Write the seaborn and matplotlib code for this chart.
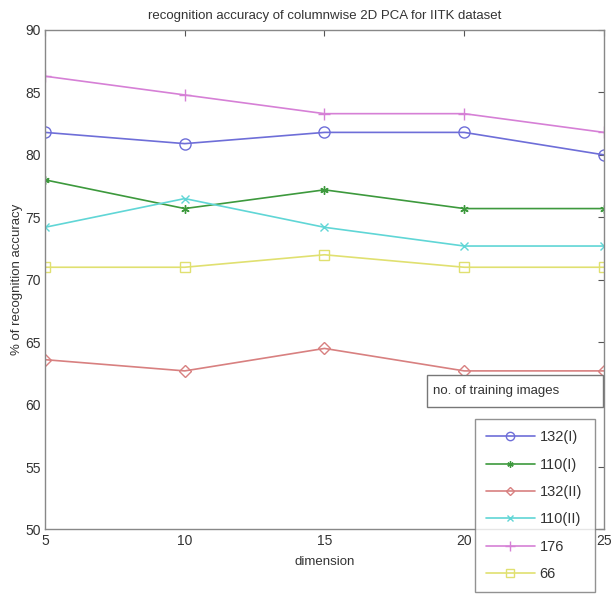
import matplotlib
matplotlib.use("Agg")
import matplotlib.pyplot as plt
from matplotlib.patches import Rectangle
import pandas as pd
import seaborn as sns

dimension = [5, 10, 15, 20, 25]
series_names = ["132(I)", "110(I)", "132(II)", "110(II)", "176", "66"]
acc_132_I = [81.8, 80.9, 81.8, 81.8, 80.0]
acc_110_I = [78.0, 75.7, 77.2, 75.7, 75.7]
acc_132_II = [63.6, 62.7, 64.5, 62.7, 62.7]
acc_110_II = [74.2, 76.5, 74.2, 72.7, 72.7]
acc_176 = [86.3, 84.8, 83.3, 83.3, 81.8]
acc_66 = [71.0, 71.0, 72.0, 71.0, 71.0]

values = [acc_132_I, acc_110_I, acc_132_II, acc_110_II, acc_176, acc_66]
df = pd.DataFrame(
    [(name, d, v) for name, vals in zip(series_names, values) for d, v in zip(dimension, vals)],
    columns=["series", "dimension", "accuracy"],
)

colors = ["#6e6ed8", "#3d993d", "#d88080", "#60d6d6", "#d680d6", "#e0e070"]
markers = ["o", (6, 2, 0), "D", "x", "+", "s"]
msizes = [8, 6, 6, 6, 9, 7]

sns.set_style("white")
plt.rcParams["font.family"] = ["Liberation Sans", "DejaVu Sans"]

fig = plt.figure(figsize=(6.11, 5.94), dpi=100)
ax = fig.add_axes([0.0736, 0.1086, 0.9149, 0.8409])

for name, c, m, ms in zip(series_names, colors, markers, msizes):
    sns.lineplot(
        data=df[df["series"] == name], x="dimension", y="accuracy",
        color=c, marker=m, markersize=ms, linewidth=1.2,
        markerfacecolor="none", markeredgecolor=c, markeredgewidth=1.0,
        ax=ax, label=name, legend=False,
    )

ax.set_xlim(5, 25)
ax.set_ylim(50, 90)
ax.set_xticks([5, 10, 15, 20, 25])
ax.set_yticks([50, 55, 60, 65, 70, 75, 80, 85, 90])
ax.tick_params(direction="in", top=True, right=True, labelsize=10, length=4,
               color="#555555", labelcolor="#333333", pad=3)
for s in ax.spines.values():
    s.set_color("#888888")
    s.set_linewidth(1.0)

ax.set_title("recognition accuracy of columnwise 2D PCA for IITK dataset", fontsize=9.5, pad=8,
             color="#333333")
ax.set_xlabel("dimension", fontsize=9.5, labelpad=6, color="#333333")
ax.set_ylabel("% of recognition accuracy", fontsize=9.5, labelpad=2, color="#333333")

# annotation box
fig.add_artist(Rectangle((427 / 611, 1 - 407 / 594), 176 / 611, 32 / 594,
                         transform=fig.transFigure, fc="white", ec="#777777", lw=1.0, zorder=5))
fig.text(433 / 611, 1 - 391 / 594, "no. of training images", fontsize=9.5, va="center", ha="left",
         color="#333333", zorder=6)

handles = [
    plt.Line2D([], [], color=c, marker=m, markerfacecolor="none", markeredgecolor=c,
               markersize=ms * 0.75, linewidth=1.2, label=n)
    for n, c, m, ms in zip(series_names, colors, markers, msizes)
]
leg = fig.legend(handles=handles, loc="lower left", bbox_to_anchor=(0.777, 0.003, 0.196, 0.286),
                 mode="expand", fontsize=10.5, frameon=True, fancybox=False, borderaxespad=0,
                 handlelength=3.4, handletextpad=0.3, labelspacing=0.92, borderpad=0.75)
leg.get_frame().set_edgecolor("#777777")
leg.get_frame().set_linewidth(1.0)
for t in leg.get_texts():
    t.set_color("#333333")

fig.savefig("out.png", dpi=100)
